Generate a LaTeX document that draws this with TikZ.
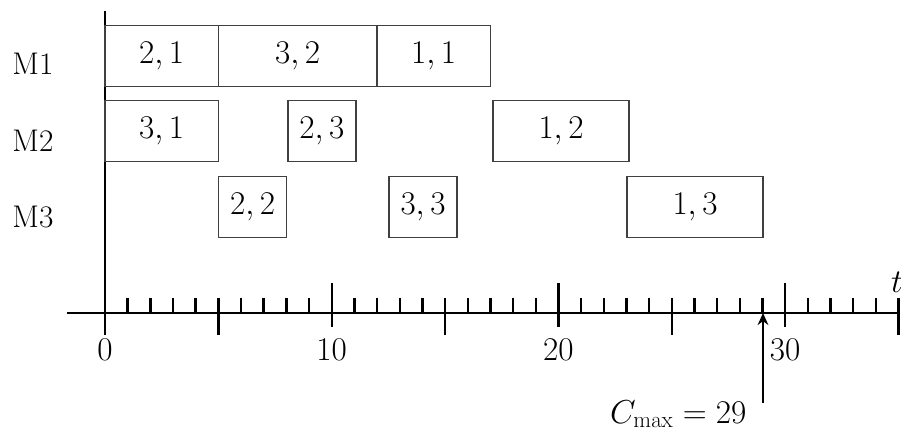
\documentclass[tikz,border=0pt]{standalone}
\usetikzlibrary{arrows.meta}
\begin{document}
\begin{tikzpicture}[x=0.75pt,y=-0.75pt,
  every node/.style={font=\fontsize{23.5}{28}\selectfont},
  jobbox/.style={draw=black!75, line width=1.1pt, inner sep=0pt, minimum height=45.75pt},
  axisline/.style={line width=2.2pt},
  tickline/.style={line width=1.8pt},
  lbl/.style={anchor=base}]
\useasboundingbox (0,0) rectangle (901,431);
% axes
\coordinate (xl) at (67,313);
\coordinate (xr) at (899,313);
\coordinate (yt) at (105,11);
\coordinate (yb) at (105,335);
\draw[axisline] (xl) -- (xr);
\draw[axisline] (yt) -- (yb);
% ticks
\foreach \i in {1,...,34}{
  \pgfmathtruncatemacro\r{mod(\i,5)}
  \ifnum\r>0
    \draw[tickline] ({105+22.67*\i},298) -- ({105+22.67*\i},313);
  \fi
}
\foreach \i in {5,15,25,35}{
  \draw[tickline] ({105+22.67*\i},298) -- ({105+22.67*\i},335);
}
\foreach \i in {10,20,30}{
  \draw[tickline] ({105+22.67*\i},283) -- ({105+22.67*\i},327);
}
% tick labels
\node[lbl] (l0) at (105,361) {$0$};
\node[lbl] (l10) at (331.7,361) {$10$};
\node[lbl] (l20) at (558.4,361) {$20$};
\node[lbl] (l30) at (785.1,361) {$30$};
\node[lbl] (tl) at (897,293) {$t$};
% machines
\node[lbl] (m1) at (33,75) {M1};
\node[lbl] (m2) at (33,152) {M2};
\node[lbl] (m3) at (33,228) {M3};
% jobs
\node[jobbox, minimum width=85pt]  (j21) at (161.7,55.75) {$2,1$};
\node[jobbox, minimum width=119pt] (j32) at (297.7,55.75) {$3,2$};
\node[jobbox, minimum width=85pt]  (j11) at (433.7,55.75) {$1,1$};
\node[jobbox, minimum width=85pt]  (j31) at (161.7,131.25) {$3,1$};
\node[jobbox, minimum width=51pt]  (j23) at (321.8,131.25) {$2,3$};
\node[jobbox, minimum width=102pt] (j12) at (561,131.25) {$1,2$};
\node[jobbox, minimum width=51pt]  (j22) at (252.6,207) {$2,2$};
\node[jobbox, minimum width=51pt]  (j33) at (423,207) {$3,3$};
\node[jobbox, minimum width=102pt] (j13) at (695,207) {$1,3$};
% Cmax
\coordinate (cb) at (763,403);
\coordinate (ct) at (763,313);
\draw[line width=2.2pt,-{Stealth[length=9pt,width=8pt]}] (cb) -- (ct);
\node[anchor=base east] (cm) at (751,423) {$C_{\max} = 29$};
\end{tikzpicture}
\end{document}
